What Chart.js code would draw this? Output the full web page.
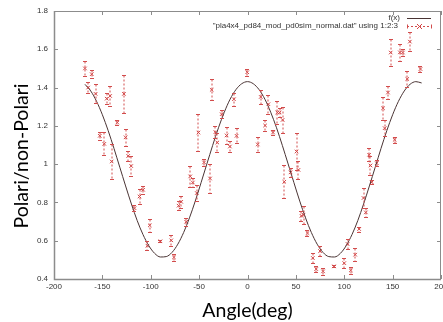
<!DOCTYPE html>
<html>
<head>
    <title>Polari/non-Polari vs Angle</title>
    <script src="https://cdn.jsdelivr.net/npm/chart.js"></script>
    <style>
        html, body { margin: 0; padding: 0; background: #fff; overflow: hidden; }
        #wrap { width: 443px; height: 322px; }
    </style>
</head>
<body>
    <div id="wrap"><canvas id="polariChart" width="443" height="322"></canvas></div>
    <script type="text/javascript">
        var angles = [-168, -164.7, -161, -157, -152.7, -148, -145.5, -142, -140.4, -134.6,
            -127.7, -126, -123.3, -120.2, -116.8, -111.6, -107.9, -103.4, -101, -90,
            -78.8, -76, -71.2, -68.5, -63.4, -59.2, -56.5, -52.4, -50.7, -44.9,
            -38.7, -37, -33.2, -31.2, -26.7, -21.6, -18.2, -14, -11.3, -0.3,
            10.6, 13.7, 18.2, 21.6, 26.4, 30.8, 33.2, 36.3, 38, 44.5,
            50.7, 52.7, 55.8, 57.9, 62, 67.5, 71, 75, 78.1, 89.4,
            100, 103.4, 106.8, 111.3, 115.4, 119.9, 122.3, 125.7, 127.1, 128.4,
            133.6, 140.1, 141.8, 145.2, 148, 152.1, 157.5, 160.6, 165.1, 167.8, 178.8];
        var ratios = [1.50, 1.40, 1.47, 1.367, 1.148, 1.106, 1.342, 1.356, 1.014, 1.217,
            1.367, 1.14, 1.043, 0.99, 0.77, 0.831, 0.866, 0.574, 0.68, 0.597,
            0.602, 0.513, 0.783, 0.803, 0.699, 0.936, 0.904, 0.849, 1.165, 1.009,
            0.925, 1.388, 1.167, 1.113, 1.261, 1.15, 1.092, 1.339, 1.148, 1.48,
            1.103, 1.351, 1.202, 1.313, 1.165, 1.27, 1.27, 1.231, 0.908, 0.957,
            1.066, 0.97, 0.73, 0.736, 0.64, 0.51, 0.452, 0.546, 0.44, 0.466,
            0.483, 0.583, 0.445, 0.527, 0.661, 0.823, 0.748, 1.049, 0.993, 0.905,
            1.005, 1.292, 1.188, 1.374, 1.583, 1.127, 1.584, 1.583, 1.445, 1.64, 1.497];
        var errors = [0.04, 0.03, 0.02, 0.05, 0.02, 0.06, 0.03, 0.05, 0.09, 0.015,
            0.10, 0.045, 0.025, 0.05, 0.015, 0.04, 0.02, 0.025, 0.035, 0.005,
            0.03, 0.02, 0.025, 0.03, 0.02, 0.055, 0.025, 0.04, 0.095, 0.02,
            0.075, 0.055, 0.033, 0.05, 0.02, 0.045, 0.03, 0.035, 0.04, 0.017,
            0.04, 0.035, 0.028, 0.05, 0.013, 0.06, 0.025, 0.07, 0.085, 0.022,
            0.095, 0.045, 0.025, 0.047, 0.017, 0.025, 0.017, 0.025, 0.02, 0.005,
            0.028, 0.025, 0.018, 0.035, 0.013, 0.05, 0.022, 0.035, 0.048, 0.01,
            0.017, 0.06, 0.043, 0.032, 0.07, 0.017, 0.045, 0.02, 0.04, 0.048, 0.017];

        // fitted curve f(x), every 6 degrees
        var fitAngles = [-168, -162, -156, -150, -144, -138, -132, -126, -120, -114,
            -108, -102, -96, -90, -84, -78, -72, -66, -60, -54,
            -48, -42, -36, -30, -24, -18, -12, -6, 0, 6,
            12, 18, 24, 30, 36, 42, 48, 54, 60, 66,
            72, 78, 84, 90, 96, 102, 108, 114, 120, 126,
            132, 138, 144, 150, 156, 162, 168, 174, 180];
        var fitValues = [1.417, 1.382, 1.328, 1.258, 1.175, 1.082, 0.984, 0.886, 0.792, 0.705,
            0.632, 0.574, 0.534, 0.515, 0.517, 0.539, 0.582, 0.643, 0.719, 0.807,
            0.903, 1.001, 1.098, 1.190, 1.271, 1.339, 1.389, 1.420, 1.431, 1.420,
            1.389, 1.339, 1.271, 1.190, 1.098, 1.001, 0.903, 0.807, 0.719, 0.643,
            0.582, 0.539, 0.517, 0.515, 0.534, 0.574, 0.632, 0.705, 0.792, 0.886,
            0.984, 1.082, 1.175, 1.258, 1.328, 1.382, 1.417, 1.431, 1.424];

        var xTicks = [-200, -150, -100, -50, 0, 50, 100, 150, 200];
        var yTicks = [0.4, 0.6, 0.8, 1, 1.2, 1.4, 1.6, 1.8];
        var yTickLabels = ['0.4', '0.6', '0.8', '1', '1.2', '1.4', '1.6', '1.8'];

        var fitLabel = 'f(x)';
        var dataLabel = '"pla4x4_pd84_mod_pd0sim_normal.dat" using 1:2:3';
        var yTitle = 'Polari/non-Polari';

        var RED = '#d24444';
        var BAR = '#d24c4c';
        var FIT = '#4a3434';
        var FRAME = '#8c8c8c';

        // gnuplot style frame with inward ticks, error bars, y title and the key
        var gnuFrame = {
            id: 'gnuFrame',
            afterDraw: function(chart) {
                var c = chart.ctx, a = chart.chartArea;
                var xs = chart.scales.x, ys = chart.scales.y;
                c.save();

                // dashed vertical error bars with small caps (soft, like the original)
                var meta = chart.getDatasetMeta(1);
                c.strokeStyle = BAR;
                c.lineWidth = 1;
                meta.data.forEach(function(pt, i) {
                    var px = Math.round(pt.x);
                    var top = Math.round(ys.getPixelForValue(ratios[i] + errors[i])) + 0.5;
                    var bot = Math.round(ys.getPixelForValue(ratios[i] - errors[i])) + 0.5;
                    c.setLineDash([2, 2]);
                    c.beginPath();
                    c.moveTo(px, top);
                    c.lineTo(px, bot);
                    c.stroke();
                    c.setLineDash([]);
                    c.beginPath();
                    c.moveTo(px - 2, top); c.lineTo(px + 2, top);
                    c.moveTo(px - 2, bot); c.lineTo(px + 2, bot);
                    c.stroke();
                });

                // frame
                c.strokeStyle = FRAME;
                c.lineWidth = 1;
                c.strokeRect(a.left + 0.5, a.top + 0.5, a.right - a.left - 1, a.bottom - a.top);
                c.lineWidth = 1.5;
                c.beginPath();
                c.moveTo(a.left + 0.5, a.top);
                c.lineTo(a.left + 0.5, a.bottom + 0.5);
                c.lineTo(a.right, a.bottom + 0.5);
                c.stroke();
                c.lineWidth = 1;
                c.beginPath();
                xTicks.forEach(function(v) {
                    var px = Math.round(xs.getPixelForValue(v)) + 0.5;
                    c.moveTo(px, a.bottom); c.lineTo(px, a.bottom - 4);
                    c.moveTo(px, a.top); c.lineTo(px, a.top + 4);
                });
                yTicks.forEach(function(v) {
                    var py = Math.round(ys.getPixelForValue(v)) + 0.5;
                    c.moveTo(a.left, py); c.lineTo(a.left + 4, py);
                    c.moveTo(a.right, py); c.lineTo(a.right - 4, py);
                });
                c.stroke();

                // y axis title, sits a little below the middle of the axis
                c.save();
                c.translate(28, 156);
                c.rotate(-Math.PI / 2);
                c.font = '19.5px Lato, sans-serif';
                c.fillStyle = '#000';
                c.textAlign = 'center';
                c.textBaseline = 'alphabetic';
                c.fillText(yTitle, 0, 0);
                c.restore();

                // key
                c.font = '8px "Liberation Sans", Arial, sans-serif';
                c.fillStyle = '#333';
                c.textAlign = 'right';
                c.textBaseline = 'middle';
                c.fillText(fitLabel, 400, 18);
                c.fillText(dataLabel, 398, 26);
                c.strokeStyle = FIT;
                c.beginPath();
                c.moveTo(407, 18.5); c.lineTo(431, 18.5);
                c.stroke();
                c.strokeStyle = BAR;
                c.setLineDash([2, 2]);
                c.beginPath();
                c.moveTo(407, 26.5); c.lineTo(432, 26.5);
                c.stroke();
                c.setLineDash([]);
                c.beginPath();
                c.moveTo(407.5, 24.5); c.lineTo(407.5, 28.5);
                c.moveTo(431.5, 24.5); c.lineTo(431.5, 28.5);
                c.stroke();
                c.strokeStyle = RED;
                c.beginPath();
                c.moveTo(417, 24); c.lineTo(422, 29);
                c.moveTo(422, 24); c.lineTo(417, 29);
                c.stroke();
                c.restore();
            }
        };

        var chart = new Chart(document.getElementById('polariChart'), {
            type: 'scatter',
            data: {
                datasets: [{
                    type: 'line',
                    label: fitLabel,
                    data: fitAngles.map(function(x, i) { return {x: x, y: fitValues[i]}; }),
                    borderColor: FIT,
                    borderWidth: 1,
                    pointRadius: 0,
                    cubicInterpolationMode: 'monotone',
                    fill: false
                }, {
                    label: dataLabel,
                    data: angles.map(function(x, i) { return {x: x, y: ratios[i]}; }),
                    pointStyle: 'crossRot',
                    pointRadius: 2.5,
                    borderColor: RED,
                    backgroundColor: RED,
                    borderWidth: 1
                }]
            },
            options: {
                responsive: false,
                animation: false,
                layout: { autoPadding: false, padding: { top: 11, right: 2, left: 0, bottom: 0 } },
                plugins: { legend: { display: false }, tooltip: { enabled: false } },
                scales: {
                    x: {
                        type: 'linear',
                        min: -200,
                        max: 200,
                        afterBuildTicks: function(s) { s.ticks = xTicks.map(function(v) { return {value: v}; }); },
                        afterFit: function(s) { s.height = 43; s.paddingLeft = 0; s.paddingRight = 0; },
                        grid: { display: false, drawTicks: false, tickLength: 0 },
                        border: { display: false },
                        ticks: {
                            maxRotation: 0,
                            autoSkip: false,
                            padding: 3,
                            color: '#333',
                            font: { family: '"Liberation Sans", Arial, sans-serif', size: 8 }
                        },
                        title: {
                            display: true,
                            text: 'Angle(deg)',
                            color: '#000',
                            padding: { top: 0, bottom: 0 },
                            font: { family: 'Lato', size: 19.5 }
                        }
                    },
                    y: {
                        min: 0.4,
                        max: 1.8,
                        afterBuildTicks: function(s) { s.ticks = yTicks.map(function(v) { return {value: v}; }); },
                        afterFit: function(s) { s.width = 54; },
                        grid: { display: false, drawTicks: false, tickLength: 0 },
                        border: { display: false },
                        ticks: {
                            padding: 6,
                            color: '#333',
                            font: { family: '"Liberation Sans", Arial, sans-serif', size: 8 },
                            callback: function(v) { return yTickLabels[yTicks.indexOf(v)]; }
                        }
                    }
                }
            },
            plugins: [gnuFrame]
        });
    </script>
</body>
</html>
